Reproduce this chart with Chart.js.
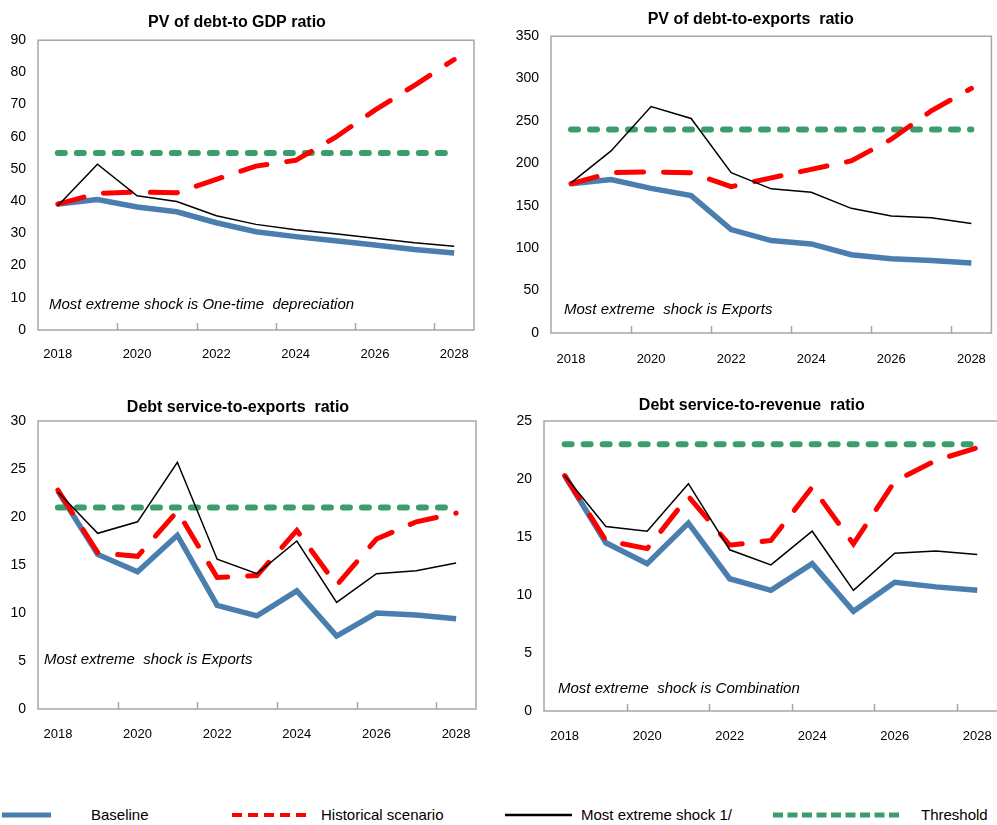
<!DOCTYPE html>
<html>
<head>
<meta charset="utf-8">
<script src="https://cdn.jsdelivr.net/npm/chart.js@4.4.1/dist/chart.umd.min.js"></script>
<style>
  body { margin: 0; width: 997px; height: 825px; overflow: hidden; background: #fff; position: relative;
         font-family: "Liberation Sans", Arial, sans-serif; }
  .box { position: absolute; }
  .lg { position: absolute; top: 806px; font-size: 15px; line-height: 18px; color: #000; white-space: nowrap; }
  .lg svg { position: absolute; top: 0; }
</style>
</head>
<body>
<div class="box" style="left:0;top:0;width:497px;height:380px"><canvas id="c1"></canvas></div>
<div class="box" style="left:500px;top:0;width:505px;height:383px"><canvas id="c2"></canvas></div>
<div class="box" style="left:0;top:390px;width:497px;height:370px"><canvas id="c3"></canvas></div>
<div class="box" style="left:500px;top:390px;width:510px;height:372px"><canvas id="c4"></canvas></div>

<div class="lg" style="left:0"><svg width="54" height="18"><line x1="2" y1="9" x2="51" y2="9" stroke="#4a7eaf" stroke-width="5"/></svg></div>
<div class="lg" style="left:91px">Baseline</div>
<div class="lg" style="left:232px"><svg width="76" height="18"><line x1="0" y1="9" x2="74" y2="9" stroke="#ff0000" stroke-width="4" stroke-dasharray="10 6"/></svg></div>
<div class="lg" style="left:321px">Historical scenario</div>
<div class="lg" style="left:505px"><svg width="68" height="18"><line x1="0" y1="9" x2="67" y2="9" stroke="#000" stroke-width="2.5"/></svg></div>
<div class="lg" style="left:581px">Most extreme shock 1/</div>
<div class="lg" style="left:773px"><svg width="132" height="18"><line x1="0" y1="9" x2="130" y2="9" stroke="#3a9d6b" stroke-width="5" stroke-dasharray="10 4.5"/></svg></div>
<div class="lg" style="left:921px">Threshold</div>

<script>
const years = ['2018','2019','2020','2021','2022','2023','2024','2025','2026','2027','2028'];

// PV of debt-to GDP ratio
const gdpBaseline   = [39.1, 40.5, 38.2, 36.7, 33.3, 30.5, 29.0, 27.7, 26.4, 25.0, 23.9];
const gdpHistorical = [39.1, 42.4, 42.9, 42.6, 46.8, 50.9, 52.7, 59.8, 68.3, 76.0, 84.0];
const gdpShock      = [38.6, 51.5, 41.7, 39.9, 35.5, 32.8, 31.1, 29.9, 28.5, 27.1, 26.0];
const gdpThreshold  = [55, 55, 55, 55, 55, 55, 55, 55, 55, 55, 55];

// PV of debt-to-exports ratio
const expBaseline   = [176, 181, 170.5, 162, 122, 109, 105, 92.3, 87.6, 85.6, 82.5];
const expHistorical = [176, 189, 190, 189, 172.5, 183, 193, 203, 228.5, 262, 288.5];
const expShock      = [177, 214.7, 267, 253, 189, 170, 166, 147, 138, 136, 129];
const expThreshold  = [240, 240, 240, 240, 240, 240, 240, 240, 240, 240, 240];

// Debt service-to-exports ratio
const dsxBaseline   = [22.7, 16.1, 14.3, 18.1, 10.8, 9.7, 12.3, 7.6, 10.0, 9.8, 9.4];
const dsxHistorical = [22.8, 16.3, 15.9, 20.6, 13.7, 13.9, 18.6, 12.9, 17.7, 19.5, 20.4];
const dsxShock      = [22.6, 18.3, 19.5, 25.7, 15.6, 14.1, 17.5, 11.1, 14.1, 14.4, 15.2];
const dsxThreshold  = [21, 21, 21, 21, 21, 21, 21, 21, 21, 21, 21];

// Debt service-to-revenue ratio
const dsrBaseline   = [20.3, 14.5, 12.7, 16.2, 11.4, 10.4, 12.7, 8.6, 11.1, 10.7, 10.4];
const dsrHistorical = [20.3, 14.7, 14.0, 18.5, 14.3, 14.7, 19.3, 14.4, 19.8, 21.6, 22.7];
const dsrShock      = [20.3, 15.9, 15.5, 19.6, 13.9, 12.6, 15.5, 10.4, 13.6, 13.8, 13.5];
const dsrThreshold  = [23, 23, 23, 23, 23, 23, 23, 23, 23, 23, 23];

const fam = '"Liberation Sans", Arial, sans-serif';

// grey box round the plot area + short inner tick marks between year pairs
const framePlugin = {
  id: 'frame',
  afterDraw(chart) {
    const { ctx, chartArea: a } = chart;
    const xs = chart.scales.x;
    ctx.save();
    ctx.strokeStyle = '#a6a6a6';
    ctx.lineWidth = 1.5;
    ctx.strokeRect(a.left, a.top, a.right - a.left, a.bottom - a.top);
    const half = (xs.getPixelForValue(1) - xs.getPixelForValue(0)) / 2;
    ctx.beginPath();
    for (let i = 2; i < years.length; i += 2) {
      const x = Math.round(xs.getPixelForValue(i) - half) + 0.5;
      ctx.moveTo(x, a.bottom);
      ctx.lineTo(x, a.bottom - 7);
    }
    ctx.stroke();
    // note text
    const n = chart.options.plugins.note;
    ctx.fillStyle = '#000';
    ctx.font = 'italic 15px ' + fam;
    ctx.textBaseline = 'middle';
    ctx.fillText(n.text, a.left + n.dx, a.bottom - n.dy);
    ctx.restore();
  }
};

function makeChart(id, title, base, hist, shock, thr, yMax, yStep, lay) {
  new Chart(document.getElementById(id), {
    type: 'line',
    data: {
      labels: years,
      datasets: [
        { label: 'Baseline', data: base, borderColor: '#4a7eaf', borderWidth: 5.5, order: 3 },
        { label: 'Historical scenario', data: hist, borderColor: '#ff0000', borderWidth: 5,
          borderDash: [27, 20], borderCapStyle: 'round', order: 2 },
        { label: 'Most extreme shock 1/', data: shock, borderColor: '#000', borderWidth: 1.5, order: 1 },
        { label: 'Threshold', data: thr, borderColor: '#3a9d6b', borderWidth: 6,
          borderDash: [7, 12], borderCapStyle: 'round', order: 4 }
      ]
    },
    options: {
      responsive: true,
      maintainAspectRatio: false,
      animation: false,
      elements: { point: { radius: 0 }, line: { tension: 0, fill: false } },
      layout: { padding: { left: 0, right: lay.padRight, top: 0, bottom: 0 } },
      plugins: {
        legend: { display: false },
        tooltip: { enabled: false },
        title: { display: true, text: title, color: '#000',
                 font: { family: fam, size: 16, weight: 'bold' },
                 padding: { top: lay.titleTop, bottom: lay.titleBottom } },
        note: lay.note
      },
      scales: {
        x: {
          type: 'category', offset: true,
          grid: { display: false, drawTicks: false }, border: { display: false },
          ticks: { autoSkip: false, maxRotation: 0, padding: lay.xPad, color: '#000',
                   font: { family: fam, size: 13 },
                   callback: (v, i) => (i % 2 === 0 ? years[i] : '') },
          afterFit: s => { s.height = lay.xHeight; }
        },
        y: {
          min: 0, max: yMax,
          grid: { display: false, drawTicks: false }, border: { display: false },
          ticks: { stepSize: yStep, padding: 12, color: '#000', font: { family: fam, size: 14 } },
          afterFit: s => { s.width = lay.yWidth; }
        }
      }
    },
    plugins: [framePlugin]
  });
}

makeChart('c1', 'PV of debt-to GDP ratio', gdpBaseline, gdpHistorical, gdpShock, gdpThreshold, 90, 10,
  { yWidth: 38, xHeight: 50, padRight: 23, titleTop: 13, titleBottom: 8, xPad: 17,
    note: { text: 'Most extreme shock is One-time  depreciation', dx: 11, dy: 25 } });
makeChart('c2', 'PV of debt-to-exports  ratio', expBaseline, expHistorical, expShock, expThreshold, 350, 50,
  { yWidth: 51, xHeight: 50, padRight: 3.5, titleTop: 10, titleBottom: 7, xPad: 19,
    note: { text: 'Most extreme  shock is Exports', dx: 13, dy: 23 } });
makeChart('c3', 'Debt service-to-exports  ratio', dsxBaseline, dsxHistorical, dsxShock, dsxThreshold, 30, 5,
  { yWidth: 38, xHeight: 51, padRight: 21, titleTop: 7.5, titleBottom: 4.3, xPad: 18,
    note: { text: 'Most extreme  shock is Exports', dx: 6, dy: 49 } });
makeChart('c4', 'Debt service-to-revenue  ratio', dsrBaseline, dsrHistorical, dsrShock, dsrThreshold, 25, 5,
  { yWidth: 44, xHeight: 51, padRight: 6.5, titleTop: 5.5, titleBottom: 6.3, xPad: 18,
    note: { text: 'Most extreme  shock is Combination', dx: 14, dy: 22 } });
</script>
</body>
</html>
